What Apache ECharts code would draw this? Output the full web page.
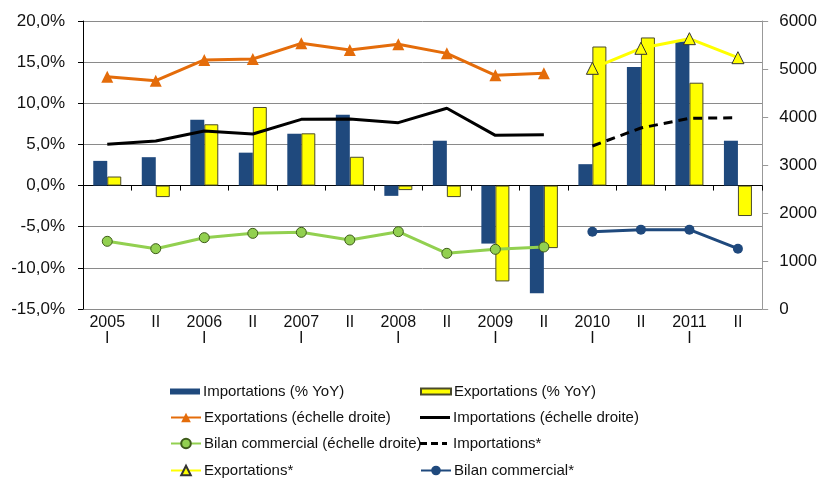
<!DOCTYPE html>
<html>
<head>
<meta charset="utf-8">
<script src="https://cdn.jsdelivr.net/npm/echarts@6/dist/echarts.min.js"></script>
<style>html,body{margin:0;padding:0;background:#fff;}#c{width:820px;height:478px;}</style>
</head>
<body>
<div id="c"></div>
<script>
var categories = ['2005\nI','II','2006\nI','II','2007\nI','II','2008\nI','II','2009\nI','II','2010\nI','II','2011\nI','II'];
var importsYoY = [3.0, 3.45, 8.0, 4.0, 6.3, 8.6, -1.25, 5.45, -7.05, -13.1, 2.6, 14.4, 17.5, 5.45];
var exportsYoY = [1.1, -1.4, 7.45, 9.55, 6.35, 3.5, -0.55, -1.4, -11.65, -7.6, 16.9, 18.0, 12.5, -3.7];
var exportsRight = [4840, 4757, 5188, 5208, 5535, 5396, 5514, 5326, 4868, 4910, null, null, null, null];
var importsRight = [3430, 3500, 3708, 3646, 3951, 3958, 3882, 4181, 3618, 3632, null, null, null, null];
var balanceRight = [1410, 1257, 1486, 1576, 1597, 1438, 1611, 1160, 1243, 1292, null, null, null, null];
var importsStar = [null, null, null, null, null, null, null, null, null, null, 3396, 3771, 3972, 3986];
var exportsStar = [null, null, null, null, null, null, null, null, null, null, 5014, 5431, 5632, 5236];
var balanceStar = [null, null, null, null, null, null, null, null, null, null, 1611, 1653, 1653, 1257];
var leftTicks = {min: -15, max: 20, interval: 5};
var rightTicks = {min: 0, max: 6000, interval: 1000};

var FONT = "'Liberation Sans Narrow','Arial Narrow','Liberation Sans',sans-serif";
var BLUE = '#1F497D', YELLOW = '#FFFF00', ORANGE = '#E46C0A', GREEN = '#92D050', DARKBLUE = '#1F497D';
var barIcon = 'path://M0,0 L0,0 M0,3 L30,3 L30,9 L0,9 Z M30,12 L30,12';
var solidIcon = 'path://M0,0 L0,0 M0,4.5 L30,4.5 L30,7.5 L0,7.5 Z M30,12 L30,12';
var dashIcon = 'path://M0,0 L0,0 M0,4.5 L7,4.5 L7,7.5 L0,7.5 Z M11,4.5 L18,4.5 L18,7.5 L11,7.5 Z M22,4.5 L27,4.5 L27,7.5 L22,7.5 Z M30,12 L30,12';

function leg(name, x, y, icon) {
  var item = icon ? {name: name, icon: icon} : name;
  return {
    orient: 'horizontal', left: x, top: y, itemWidth: 30, itemHeight: 12, padding: 0,
    textStyle: {fontFamily: FONT, fontSize: 15, color: '#111', padding: [0, 0, 0, -2]},
    data: [item]
  };
}
var rowY = [384, 410, 436, 463];

var chart = echarts.init(document.getElementById('c'));
chart.setOption({
  animation: false,
  textStyle: {fontFamily: FONT},
  grid: {left: 83, right: 56, top: 21, bottom: 169},
  legend: [
    leg('Importations (% YoY)', 170, rowY[0], barIcon),
    leg('Exportations (% YoY)', 420, rowY[0], barIcon),
    leg('Exportations (échelle droite)', 170, rowY[1]),
    leg('Importations (échelle droite)', 420, rowY[1], solidIcon),
    leg('Bilan commercial (échelle droite)', 170, rowY[2]),
    leg('Importations*', 420, rowY[2], dashIcon),
    leg('Exportations*', 170, rowY[3]),
    leg('Bilan commercial*', 420, rowY[3])
  ],
  xAxis: [{
    type: 'category', data: categories, boundaryGap: true,
    axisLine: {onZero: true, lineStyle: {color: '#000', width: 1}},
    axisTick: {show: true, length: 5, inside: false, lineStyle: {color: '#000'}},
    axisLabel: {show: false}
  }, {
    type: 'category', data: categories, position: 'bottom', boundaryGap: true,
    axisLine: {show: false}, axisTick: {show: false},
    axisLabel: {show: true, margin: 6, fontSize: 16, color: '#111', lineHeight: 16, fontFamily: FONT, interval: 0}
  }],
  yAxis: [{
    type: 'value', min: leftTicks.min, max: leftTicks.max, interval: leftTicks.interval,
    axisLine: {show: true, onZero: false, lineStyle: {color: '#000'}},
    axisTick: {show: true, length: 5, lineStyle: {color: '#000'}},
    splitLine: {show: true, lineStyle: {color: '#8a8a8a', width: 1}},
    axisLabel: {fontSize: 17, color: '#111', margin: 18, fontFamily: FONT,
      formatter: function (v) { return v.toFixed(1).replace('.', ',') + '%'; }}
  }, {
    type: 'value', min: rightTicks.min, max: rightTicks.max, interval: rightTicks.interval, position: 'right',
    axisLine: {show: true, onZero: false, lineStyle: {color: '#999'}},
    axisTick: {show: true, length: 6, lineStyle: {color: '#999'}},
    splitLine: {show: false},
    axisLabel: {fontSize: 17, color: '#111', margin: 17, fontFamily: FONT,
      formatter: function (v) { return String(v); }}
  }],
  series: [{
    name: 'Importations (% YoY)', type: 'bar', data: importsYoY, barWidth: 14, barGap: '0%',
    itemStyle: {color: BLUE}, z: 1
  }, {
    name: 'Exportations (% YoY)', type: 'bar', data: exportsYoY, barWidth: 14, barGap: '0%',
    itemStyle: {color: YELLOW, borderColor: '#4a4a2a', borderWidth: 1}, z: 1
  }, {
    name: 'Exportations (échelle droite)', type: 'line', yAxisIndex: 1, data: exportsRight,
    lineStyle: {color: ORANGE, width: 3}, itemStyle: {color: ORANGE}, symbol: 'triangle', symbolSize: 12, showAllSymbol: true, z: 3
  }, {
    name: 'Importations (échelle droite)', type: 'line', yAxisIndex: 1, data: importsRight,
    lineStyle: {color: '#000', width: 3}, itemStyle: {color: '#000'}, symbol: 'none', z: 3
  }, {
    name: 'Bilan commercial (échelle droite)', type: 'line', yAxisIndex: 1, data: balanceRight,
    lineStyle: {color: GREEN, width: 3}, itemStyle: {color: GREEN, borderColor: '#3d5a1a', borderWidth: 1}, symbol: 'circle', symbolSize: 10, z: 3
  }, {
    name: 'Importations*', type: 'line', yAxisIndex: 1, data: importsStar,
    lineStyle: {color: '#000', width: 3, type: [9, 6]}, itemStyle: {color: '#000'}, symbol: 'none', z: 3
  }, {
    name: 'Exportations*', type: 'line', yAxisIndex: 1, data: exportsStar,
    lineStyle: {color: YELLOW, width: 3}, itemStyle: {color: YELLOW, borderColor: '#333', borderWidth: 1}, symbol: 'triangle', symbolSize: 12, z: 3
  }, {
    name: 'Bilan commercial*', type: 'line', yAxisIndex: 1, data: balanceStar,
    lineStyle: {color: DARKBLUE, width: 3}, itemStyle: {color: DARKBLUE}, symbol: 'circle', symbolSize: 10, z: 3
  }]
});
</script>
</body>
</html>
